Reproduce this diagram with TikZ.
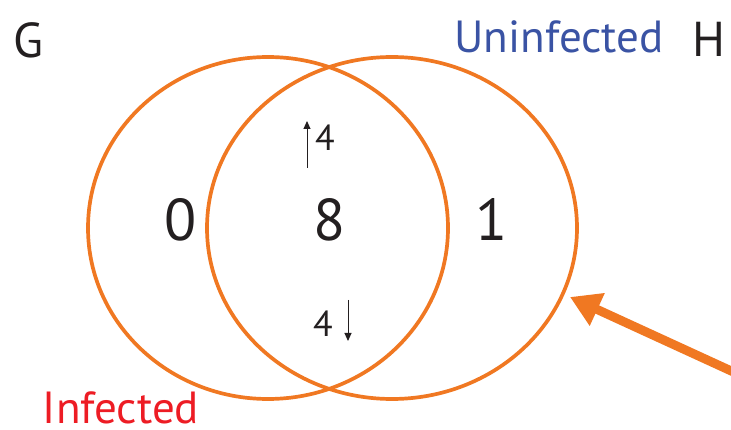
\documentclass[tikz,border=0pt]{standalone}
\usepackage{fontspec}
\setmainfont{PT Sans}
\usetikzlibrary{arrows.meta,shapes.geometric}
\definecolor{vorange}{RGB}{240,120,34}
\definecolor{vblue}{RGB}{58,83,164}
\definecolor{vred}{RGB}{237,28,36}
\definecolor{vtext}{RGB}{35,31,32}
\tikzset{
  setring/.style={draw=vorange, line width=3.7pt, ellipse, inner sep=0pt},
  biglabel/.style={font=\fontsize{45}{45}\selectfont, text=vtext, inner sep=0pt, anchor=base},
  corner/.style={biglabel, font=\fontsize{49}{49}\selectfont},
  count/.style={font=\fontsize{59}{59}\selectfont, text=vtext, inner sep=0pt, anchor=base},
  small/.style={font=\fontsize{36}{36}\selectfont, text=vtext, inner sep=0pt, anchor=base},
  thinarrow/.style={draw=vtext, line width=1pt, -{Triangle[length=8pt,width=7pt]}},
  pointer/.style={draw=vorange, line width=9pt, -{Triangle[length=30pt,width=34pt]}}
}
\begin{document}
\begin{tikzpicture}[x=1pt,y=-1pt]
\useasboundingbox (0,0) rectangle (731,430);
\node[setring, minimum width=360pt, minimum height=342pt] (L) at (268,228) {};
\node[setring, minimum width=370pt, minimum height=342pt] (R) at (392,228) {};
\node[corner] (G) at (28,58) {G};
\node[biglabel, text=vblue] (U) at (559,53) {Uninfected};
\node[corner] (H) at (709,57) {H};
\node[biglabel, text=vred] (I) at (121,423) {Infected};
\node[count] (n0) at (181,241) {0};
\node[count] (n8) at (330,241) {8};
\node[count] (n1) at (492,241) {1};
\node[small] (u4) at (325,151) {4};
\node[small] (d4) at (323,337) {4};
\coordinate (ua0) at (307,168);
\coordinate (ua1) at (307,121);
\coordinate (da0) at (348,300);
\coordinate (da1) at (348,341);
\draw[thinarrow] (ua0) -- (ua1);
\draw[thinarrow] (da0) -- (da1);
\coordinate (ptail) at (740,375);
\coordinate (ptip) at (570,297);
\draw[pointer] (ptail) -- (ptip);
\end{tikzpicture}
\end{document}
